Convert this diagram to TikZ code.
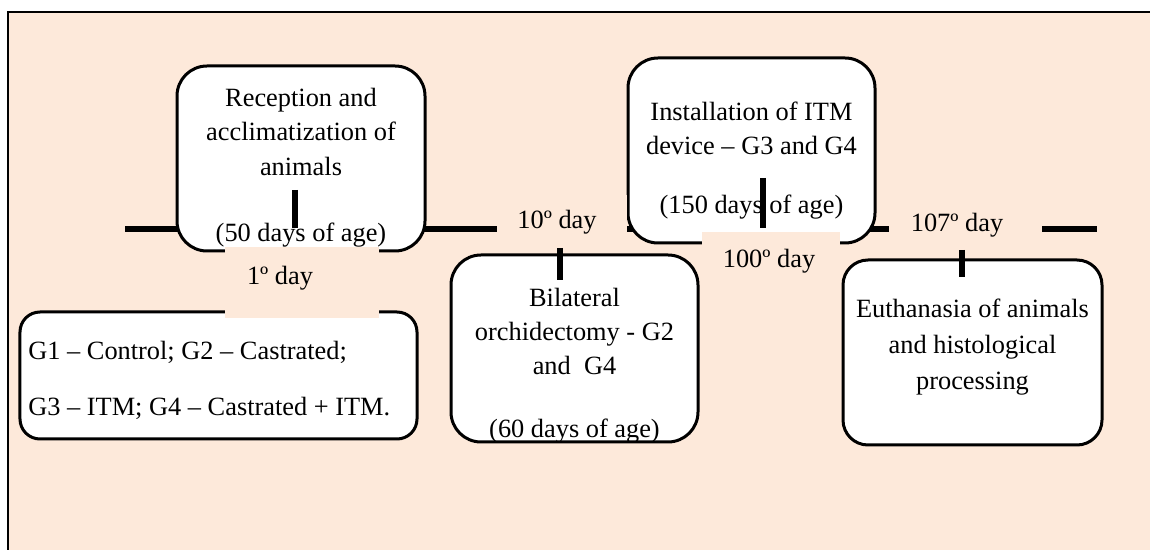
\documentclass[tikz,border=0pt]{standalone}
\usepackage{fontspec}
\setmainfont{Liberation Serif}
\usepackage{tikz}
\usetikzlibrary{positioning, calc}
\definecolor{peachbg}{HTML}{FDE9DA}
\tikzset{
  stage/.style={draw=black, fill=white, line width=0.06cm, rounded corners=0.6cm, inner sep=0pt},
  txt/.style={font=\fontsize{15}{19.6}\selectfont, align=center, inner sep=0pt},
  daypatch/.style={fill=peachbg, inner sep=0pt},
  tline/.style={line width=0.12cm},
  daytick/.style={line width=0.12cm},
}
\begin{document}
\begin{tikzpicture}[x=1cm, y=1cm]
  \useasboundingbox (0,0) rectangle (23,11);
  % background panel
  \draw[fill=peachbg, line width=0.04cm] (0.16,10.76) rectangle (23.6,-0.6);
  % time axis
  \coordinate (tl0) at (2.5,6.42);
  \coordinate (tl1) at (21.94,6.42);
  \draw[tline] (tl0) -- (tl1);
  % stages above and below the axis
  \node[stage, minimum width=4.96cm, minimum height=3.7cm] (recep) at (6.02,7.83) {};
  \node[txt] (receptxt) at (6.02,7.65) {Reception and\\acclimatization of\\animals\\[17.9pt](50 days of age)};
  \node[stage, minimum width=4.94cm, minimum height=3.74cm] (orchi) at (11.49,4.03) {};
  \node[txt] (orchitxt) at (11.49,3.69) {Bilateral\\orchidectomy - G2\\and\ \ G4\\[16pt](60 days of age)};
  \node[stage, minimum width=4.94cm, minimum height=3.7cm] (itm) at (15.03,7.99) {};
  \node[txt] (itmtxt) at (15.03,7.79) {Installation of ITM\\device – G3 and G4\\[14pt](150 days of age)};
  \node[stage, rounded corners=0.5cm, minimum width=5.18cm, minimum height=3.7cm] (euth) at (19.45,3.95) {};
  \node[txt, font=\fontsize{15}{20.5}\selectfont] (euthtxt) at (19.45,4.05) {Euthanasia of animals\\and histological\\processing};
  \node[stage, rounded corners=0.4cm, minimum width=7.94cm, minimum height=2.54cm] (groups) at (4.37,3.49) {};
  \node[txt, anchor=west, align=left] (groupstxt) at (0.56,3.39) {G1 – Control; G2 – Castrated;\\[12pt]G3 – ITM; G4 – Castrated + ITM.};
  % day labels on peach patches
  \node[daypatch, minimum width=3.08cm, minimum height=1.42cm] (d1patch) at (6.04,5.35) {};
  \node[txt] (d1) at (5.6,5.44) {1º day};
  \node[daypatch, minimum width=2.6cm, minimum height=1.06cm] (d10patch) at (11.24,6.57) {};
  \node[txt] (d10) at (11.14,6.56) {10º day};
  \node[daypatch, minimum width=2.76cm, minimum height=1.16cm] (d100patch) at (15.42,5.78) {};
  \node[txt] (d100) at (15.38,5.78) {100º day};
  \node[daypatch, minimum width=3.06cm, minimum height=0.94cm] (d107patch) at (19.31,6.43) {};
  \node[txt] (d107) at (19.14,6.5) {107º day};
  % ticks
  \foreach \x/\ya/\yb in {5.9/7.2/6.44, 11.2/6.04/5.4, 15.26/7.44/6.44, 19.24/6.0/5.46}
    \draw[daytick] (\x,\ya) -- (\x,\yb);
\end{tikzpicture}
\end{document}
